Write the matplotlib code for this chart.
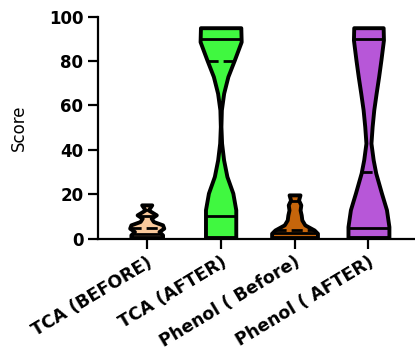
import numpy as np
import matplotlib.pyplot as plt

groups = ['TCA (BEFORE)', 'TCA (AFTER)', 'Phenol ( Before)', 'Phenol ( AFTER)']
colors = ['#F9C99C', '#40F840', '#C6650B', '#B757D8']

# violin outlines: score level -> half width (category units)
tca_before_y = [0.5, 1.7, 3.2, 4.7, 6.2, 7.7, 9.2, 10.7, 12.9, 15.2]
tca_before_w = [0.214, 0.214, 0.166, 0.231, 0.214, 0.09, 0.061, 0.13, 0.022, 0.068]
tca_after_y = [0.5, 5, 13, 20.5, 28, 35.5, 43, 50.5, 58, 65.5, 73, 80.5, 88.7, 95]
tca_after_w = [0.205, 0.205, 0.205, 0.165, 0.085, 0.04, 0.013, 0.004, 0.01, 0.041, 0.098, 0.186, 0.278, 0.273]
phenol_before_y = [0.5, 2.4, 3.9, 6.2, 8.4, 10.7, 12.9, 15.2, 17.4, 19.7]
phenol_before_w = [0.31, 0.31, 0.265, 0.139, 0.099, 0.09, 0.075, 0.085, 0.054, 0.074]
phenol_after_y = [0.5, 5.4, 13, 20.5, 29.5, 35.5, 43, 50.5, 58, 65.5, 73, 80.5, 89.5, 95]
phenol_after_w = [0.277, 0.277, 0.244, 0.176, 0.099, 0.064, 0.034, 0.05, 0.072, 0.104, 0.138, 0.169, 0.203, 0.199]

# median and quartiles
medians = [5, 80, 4, 30]
q1 = [2, 10, 2.5, 5]
q3 = [10, 90, 17, 90]

profiles = [(tca_before_y, tca_before_w), (tca_after_y, tca_after_w),
            (phenol_before_y, phenol_before_w), (phenol_after_y, phenol_after_w)]

plt.rcParams['font.family'] = ['DejaVu Sans']
fig = plt.figure(figsize=(4.15, 3.61), dpi=100)
ax = fig.add_axes([0.236, 0.339, 0.764, 0.615])

for i, (yy, ww) in enumerate(profiles):
    yy = np.array(yy)
    ww = np.array(ww)
    ax.fill_betweenx(yy, i - ww, i + ww, facecolor=colors[i], edgecolor='black',
                     linewidth=2.8, joinstyle='round', zorder=2)
    for v, ls in [(q1[i], '-'), (q3[i], '-'), (medians[i], (0, (4, 1.8)))]:
        hw = np.interp(v, yy, ww)
        ax.hlines(v, i - hw, i + hw, colors='black', linewidth=2, linestyles=ls, zorder=3)

ax.set_xlim(-0.66, 3.63)
ax.set_ylim(0, 100)
ax.set_yticks([0, 20, 40, 60, 80, 100])
ax.set_xticks(range(len(groups)))
ax.set_xticklabels(groups, rotation=31, ha='right', rotation_mode='anchor',
                   fontsize=12.5, fontweight='bold')
for t in ax.get_yticklabels():
    t.set_fontweight('bold')
    t.set_fontsize(12)
ax.set_ylabel('Score', fontsize=12, labelpad=15)
ax.spines['top'].set_visible(False)
ax.spines['right'].set_visible(False)
ax.spines['left'].set_linewidth(1.6)
ax.spines['bottom'].set_linewidth(1.6)
ax.tick_params(width=1.6, length=7)

fig.savefig('out.png', dpi=100)
